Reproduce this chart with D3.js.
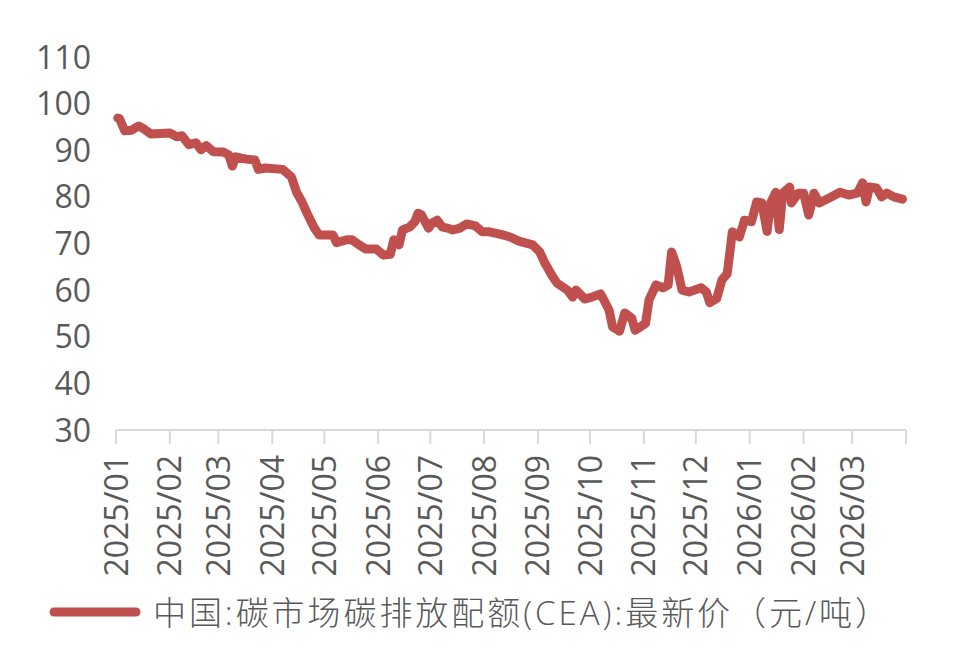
<!DOCTYPE html>
<html>
<head>
<meta charset="utf-8">
<script src="https://cdn.jsdelivr.net/npm/d3@7"></script>
<style>
  body { margin: 0; background: #fff; }
  svg text { font-family: "Open Sans", "Noto Sans CJK SC", sans-serif; fill: #595959; }
</style>
</head>
<body>
<div id="figure-holder"></div>
<script>
// data
const dates = [
  "2025-01-02","2025-01-03","2025-01-06","2025-01-10","2025-01-14","2025-01-17","2025-01-21",
  "2025-02-01","2025-02-05","2025-02-08","2025-02-12","2025-02-16","2025-02-19","2025-02-22","2025-02-26",
  "2025-03-04","2025-03-07","2025-03-09","2025-03-11","2025-03-17","2025-03-22","2025-03-24","2025-03-28",
  "2025-04-07","2025-04-12","2025-04-15","2025-04-18","2025-04-21","2025-04-25","2025-04-28",
  "2025-05-06","2025-05-08","2025-05-14","2025-05-17","2025-05-21","2025-05-25","2025-05-31",
  "2025-06-04","2025-06-08","2025-06-10","2025-06-13","2025-06-15","2025-06-19","2025-06-22","2025-06-24","2025-06-26","2025-06-30",
  "2025-07-02","2025-07-05","2025-07-08","2025-07-11","2025-07-14","2025-07-18","2025-07-22","2025-07-27","2025-07-31",
  "2025-08-04","2025-08-10","2025-08-16","2025-08-21","2025-08-29",
  "2025-09-02","2025-09-05","2025-09-09","2025-09-12","2025-09-18","2025-09-21","2025-09-23","2025-09-28",
  "2025-10-02","2025-10-07","2025-10-09","2025-10-12","2025-10-14","2025-10-18","2025-10-21","2025-10-25","2025-10-27","2025-10-30",
  "2025-11-02","2025-11-04","2025-11-08","2025-11-12","2025-11-15","2025-11-17","2025-11-20","2025-11-23","2025-11-27",
  "2025-12-04","2025-12-07","2025-12-09","2025-12-13","2025-12-16","2025-12-19","2025-12-22","2025-12-26","2025-12-29",
  "2026-01-02","2026-01-05","2026-01-08","2026-01-11","2026-01-13","2026-01-16","2026-01-18","2026-01-20","2026-01-24","2026-01-25","2026-01-29",
  "2026-02-01","2026-02-04","2026-02-07","2026-02-10","2026-02-16","2026-02-22","2026-02-27",
  "2026-03-04","2026-03-07","2026-03-09","2026-03-11","2026-03-15","2026-03-18","2026-03-21","2026-03-25","2026-03-30"
];
const prices = [
  96.9,96.8,94.2,94.3,95.2,94.6,93.5,
  93.7,92.9,93.1,91.2,91.6,90.1,91.0,89.7,
  89.6,89.0,86.6,88.6,88.1,87.9,85.9,86.2,
  85.9,84.3,81.0,79.0,76.5,73.5,71.8,
  71.8,70.2,70.8,70.8,69.7,68.8,68.8,
  67.5,67.7,70.8,69.7,72.9,73.5,74.6,76.5,76.1,73.3,
  74.4,75.0,73.5,73.3,72.9,73.3,74.2,73.8,72.5,
  72.5,72.0,71.4,70.5,69.7,
  68.2,65.8,63.2,61.5,60.0,58.5,60.0,58.1,
  58.5,59.2,57.9,55.7,52.1,51.2,55.1,54.0,51.4,52.1,
  52.9,57.9,61.1,60.5,61.1,68.2,65.0,60.0,59.6,
  60.5,59.6,57.3,58.2,62.2,63.5,72.5,71.4,75.0,
  74.7,78.9,78.7,72.6,78.7,81.0,73.0,80.8,82.1,78.7,80.8,
  80.8,76.1,80.8,78.7,79.8,81.0,80.4,
  80.8,83.0,78.9,82.1,81.9,80.0,80.8,80.0,79.5
];
const yTicks = [30, 40, 50, 60, 70, 80, 90, 100, 110];
const monthTicks = [
  "2025-01-01","2025-02-01","2025-03-01","2025-04-01","2025-05-01","2025-06-01","2025-07-01",
  "2025-08-01","2025-09-01","2025-10-01","2025-11-01","2025-12-01","2026-01-01","2026-02-01","2026-03-01"
];
const seriesName = "中国:碳市场碳排放配额(CEA):最新价（元/吨）";

const W = 957, H = 662;
const margin = { left: 116, right: 51, top: 57, bottom: 232 };
const parse = d3.timeParse("%Y-%m-%d");
const fmt = d3.timeFormat("%Y/%m");
const data = dates.map((d, i) => ({ date: parse(d), value: prices[i] }));

const svg = d3.select('#figure-holder').append('svg')
  .attr('width', W)
  .attr('height', H);

const x = d3.scaleTime()
  .domain([parse("2025-01-01"), parse("2026-04-01")])
  .range([margin.left, W - margin.right]);

const y = d3.scaleLinear()
  .domain([30, 110])
  .range([H - margin.bottom, margin.top]);

// x axis line and ticks
const tickDates = monthTicks.map(parse).concat([x.domain()[1]]);
const xAxis = svg.append('g').attr('id', 'x-axis');
xAxis.append('line')
  .attr('x1', x.range()[0]).attr('x2', x.range()[1])
  .attr('y1', y(30)).attr('y2', y(30))
  .attr('stroke', '#d9d9d9').attr('stroke-width', 2);
xAxis.selectAll('.tick')
  .data(tickDates)
  .join('line')
  .attr('x1', d => x(d)).attr('x2', d => x(d))
  .attr('y1', y(30)).attr('y2', y(30) + 14)
  .attr('stroke', '#d9d9d9').attr('stroke-width', 2);
xAxis.selectAll('text')
  .data(monthTicks.map(parse))
  .join('text')
  .attr('transform', d => `translate(${x(d)}, ${y(30) + 25}) rotate(-90)`)
  .attr('text-anchor', 'end')
  .attr('dy', '0.36em')
  .style('font-size', '32px')
  .text(d => fmt(d));

// y axis labels (no axis line)
svg.append('g').attr('id', 'y-axis')
  .selectAll('text')
  .data(yTicks)
  .join('text')
  .attr('x', 91)
  .attr('y', d => y(d))
  .attr('dy', '0.36em')
  .attr('text-anchor', 'end')
  .style('font-size', '32px')
  .text(d => d);

// the price line
const line = d3.line()
  .x(d => x(d.date))
  .y(d => y(d.value));

svg.append('path')
  .datum(data)
  .attr('d', line)
  .attr('fill', 'none')
  .attr('stroke', '#c0504d')
  .attr('stroke-width', 9)
  .attr('stroke-linejoin', 'round')
  .attr('stroke-linecap', 'round');

// legend
svg.append('line')
  .attr('x1', 54).attr('x2', 136)
  .attr('y1', 612).attr('y2', 612)
  .attr('stroke', '#c0504d')
  .attr('stroke-width', 9)
  .attr('stroke-linecap', 'round');

svg.append('text')
  .attr('x', 153)
  .attr('y', 625)
  .attr('textLength', 735)
  .attr('lengthAdjust', 'spacing')
  .style('font-size', '33px')
  .style('font-weight', 300)
  .text(seriesName);
</script>
</body>
</html>
